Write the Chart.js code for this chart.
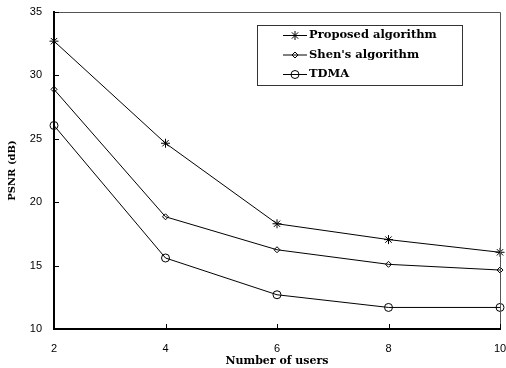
<!DOCTYPE html>
<html><head><meta charset="utf-8">
<script src="https://cdn.jsdelivr.net/npm/chart.js@4/dist/chart.umd.min.js"></script>
<style>html,body{margin:0;padding:0;background:#fff}#wrap{width:506px;height:368px}</style>
</head><body><div id="wrap"><canvas id="c"></canvas></div>
<script>
const users = [2, 4, 6, 8, 10];
const proposed = [32.7, 24.65, 18.3, 17.05, 16.05];
const shen = [28.9, 18.85, 16.25, 15.1, 14.65];
const tdma = [26.05, 15.6, 12.7, 11.7, 11.7];
const yTicks = [10, 15, 20, 25, 30, 35];
const xTicks = [2, 4, 6, 8, 10];
const seriesNames = ['Proposed algorithm', "Shen's algorithm", 'TDMA'];

function pts(v){return users.map((u,i)=>({x:u,y:v[i]}));}
const styles = [{ps:'star',r:4.5},{ps:'rectRot',r:3},{ps:'circle',r:4}];

const framePlugin = {
  id:'frame',
  afterDatasetsDraw(chart){
    const {ctx, chartArea:a, scales} = chart;
    ctx.save();
    ctx.strokeStyle='#555'; ctx.lineWidth=1;
    ctx.beginPath();
    ctx.moveTo(a.left, a.top+0.5); ctx.lineTo(a.right+0.5, a.top+0.5); ctx.lineTo(a.right+0.5, a.bottom);
    ctx.stroke();
    ctx.strokeStyle='#000';
    ctx.beginPath();
    xTicks.forEach(t=>{const x=Math.round(scales.x.getPixelForValue(t))+0.5; ctx.moveTo(x,a.bottom); ctx.lineTo(x,a.bottom-5);});
    yTicks.forEach(t=>{const y=Math.round(scales.y.getPixelForValue(t))+0.5; ctx.moveTo(a.left,y); ctx.lineTo(a.left+5,y);});
    ctx.stroke();
    // legend
    const lx=257.5, ly=25.5, lw=205, lh=60;
    ctx.fillStyle='#fff'; ctx.fillRect(lx,ly,lw,lh);
    ctx.strokeStyle='#333'; ctx.strokeRect(lx,ly,lw,lh);
    ctx.textBaseline='middle';
    seriesNames.forEach((n,i)=>{
      const y=35.5+i*19.5;
      ctx.strokeStyle='#000'; ctx.lineWidth=1;
      ctx.beginPath(); ctx.moveTo(283,y); ctx.lineTo(307,y); ctx.stroke();
      ctx.fillStyle='rgba(0,0,0,0)';
      Chart.helpers.drawPoint(ctx,{pointStyle:styles[i].ps,radius:styles[i].r,borderWidth:1},295,y);
      ctx.fillStyle='#000';
      ctx.font='bold 11.5px "DejaVu Serif"';
      ctx.fillText(n,309,y);
    });
    ctx.restore();
  }
};
function zeroPad(s){s.paddingTop=0;s.paddingBottom=0;s.paddingLeft=0;s.paddingRight=0;}

new Chart(document.getElementById('c'),{
  type:'line',
  data:{datasets:[proposed,shen,tdma].map((v,i)=>({
    label:seriesNames[i], data:pts(v), borderColor:'#000', borderWidth:1,
    pointStyle:styles[i].ps, pointRadius:styles[i].r, pointBorderColor:'#000',
    pointBackgroundColor:'rgba(0,0,0,0)', pointBorderWidth:1, tension:0, clip:false
  }))},
  options:{
    responsive:true, maintainAspectRatio:false, animation:false,
    layout:{padding:{left:6,top:12,right:6,bottom:0}},
    plugins:{legend:{display:false},tooltip:{enabled:false}},
    scales:{
      x:{type:'linear',min:2,max:10,
        afterBuildTicks(s){s.ticks=xTicks.map(v=>({value:v}));},
        afterFit(s){s.height=39;zeroPad(s);},
        grid:{display:false,drawTicks:false},
        border:{display:true,color:'#000',width:2},
        ticks:{padding:13,maxRotation:0,font:{family:'"Liberation Sans"',size:11},color:'#000'},
        title:{display:true,text:'Number of users',padding:{top:0,bottom:0},font:{family:'"DejaVu Serif"',size:11,weight:'bold'},color:'#000'}
      },
      y:{min:10,max:35,
        afterBuildTicks(s){s.ticks=yTicks.map(v=>({value:v}));},
        afterFit(s){s.width=48;zeroPad(s);},
        grid:{display:false,drawTicks:false},
        border:{display:true,color:'#000',width:2},
        ticks:{padding:12,font:{family:'"Liberation Sans"',size:11},color:'#000'},
        title:{display:true,text:'PSNR (dB)',padding:{top:0,bottom:0},font:{family:'"DejaVu Serif"',size:10,weight:'bold'},color:'#000'}
      }
    }
  },
  plugins:[framePlugin]
});
</script></body></html>
